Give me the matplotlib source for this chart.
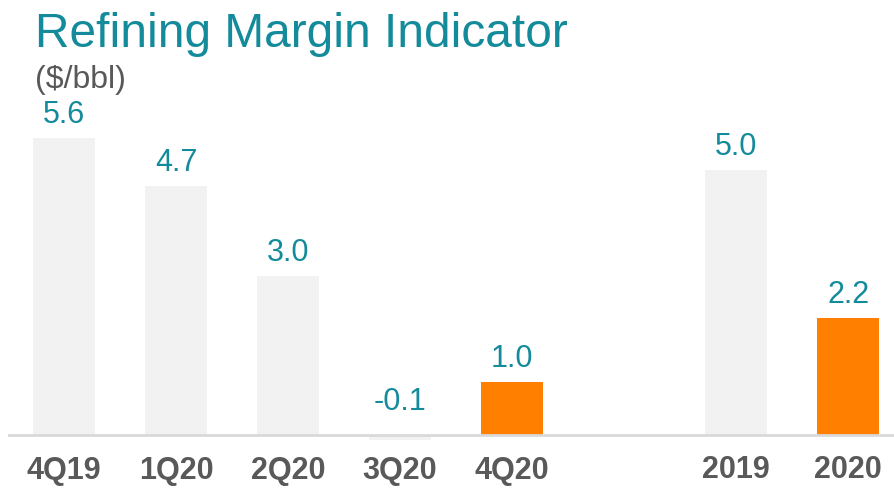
import matplotlib
matplotlib.use('Agg')
import matplotlib.pyplot as plt
import numpy as np

# data
categories = ['4Q19', '1Q20', '2Q20', '3Q20', '4Q20', '2019', '2020']
slots = [0, 1, 2, 3, 4, 6, 7]
values = [5.6, 4.7, 3.0, -0.1, 1.0, 5.0, 2.2]
highlight = [False, False, False, False, True, False, True]

teal = '#138b9a'
grey_txt = '#595959'

plt.rcParams['font.family'] = ['Liberation Sans', 'DejaVu Sans']

fig = plt.figure(figsize=(8.94, 4.88), dpi=100)
# baseline sits 53 px above the bottom edge, 53 px per unit
ax = fig.add_axes([8 / 894, 45 / 488, 886 / 894, 343 / 488])

colors = ['#ff8000' if h else '#f2f2f2' for h in highlight]
ax.bar(slots, values, width=0.555, color=colors, zorder=2)
ax.axhline(0, color='#d9d9d9', lw=2, zorder=3)

for x, v in zip(slots, values):
    ax.annotate('%.1f' % v, (x, max(v, 0)), xytext=(0, 6 if v > 0 else 13),
                textcoords='offset points', ha='center', va='bottom',
                fontsize=22, color=teal)

ax.set_xlim(-0.5, 7.41)
ax.set_ylim(-0.15, 6.32)
ax.set_xticks(slots)
ax.set_xticklabels(categories, fontsize=22, fontweight='bold', color=grey_txt)
ax.tick_params(axis='x', length=0, pad=9)
ax.set_yticks([])
for s in ax.spines.values():
    s.set_visible(False)

fig.text(35 / 894, 1 - 47 / 488, 'Refining Margin Indicator', fontsize=34.5,
         color=teal, va='baseline', ha='left')
fig.text(35 / 894, 1 - 88 / 488, '($/bbl)', fontsize=23, color=grey_txt,
         va='baseline', ha='left')

fig.savefig('out.png', dpi=100)
plt.close()
